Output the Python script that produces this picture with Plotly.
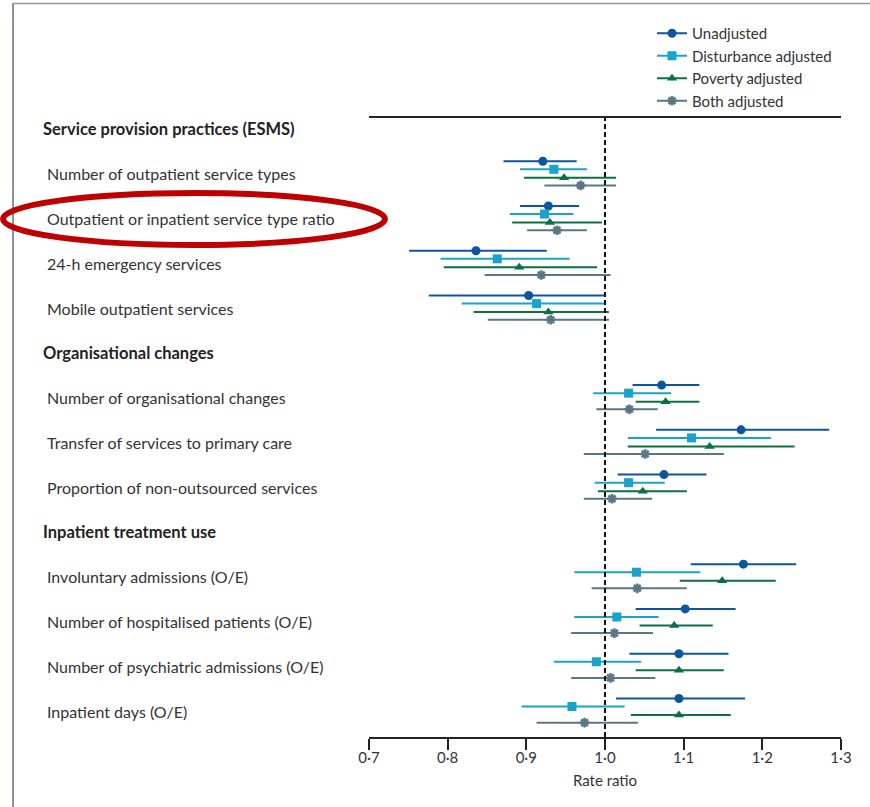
import plotly.graph_objects as go

# ---- data ----
headers = ["Service provision practices (ESMS)", "Organisational changes", "Inpatient treatment use"]
header_slots = [0, 5, 9]
categories = [
    "Number of outpatient service types",
    "Outpatient or inpatient service type ratio",
    "24-h emergency services",
    "Mobile outpatient services",
    "Number of organisational changes",
    "Transfer of services to primary care",
    "Proportion of non-outsourced services",
    "Involuntary admissions (O/E)",
    "Number of hospitalised patients (O/E)",
    "Number of psychiatric admissions (O/E)",
    "Inpatient days (O/E)",
]
category_slots = [1, 2, 3, 4, 6, 7, 8, 10, 11, 12, 13]

unadj_est = [0.921, 0.928, 0.836, 0.903, 1.072, 1.173, 1.075, 1.176, 1.102, 1.094, 1.094]
unadj_lo = [0.871, 0.892, 0.751, 0.776, 1.035, 1.065, 1.016, 1.109, 1.039, 1.031, 1.014]
unadj_hi = [0.964, 0.967, 0.926, 0.999, 1.120, 1.285, 1.129, 1.243, 1.166, 1.157, 1.178]

dist_est = [0.935, 0.923, 0.863, 0.913, 1.030, 1.110, 1.030, 1.040, 1.015, 0.989, 0.958]
dist_lo = [0.892, 0.879, 0.791, 0.818, 0.985, 1.029, 0.987, 0.961, 0.961, 0.935, 0.894]
dist_hi = [0.977, 0.960, 0.955, 0.999, 1.084, 1.211, 1.076, 1.121, 1.068, 1.046, 1.025]

pov_est = [0.948, 0.930, 0.891, 0.928, 1.077, 1.133, 1.048, 1.149, 1.088, 1.094, 1.094]
pov_lo = [0.897, 0.882, 0.795, 0.833, 1.039, 1.029, 0.991, 1.095, 1.044, 1.039, 1.033]
pov_hi = [1.014, 0.996, 0.990, 1.005, 1.120, 1.241, 1.104, 1.217, 1.137, 1.151, 1.160]

both_est = [0.969, 0.939, 0.919, 0.931, 1.031, 1.051, 1.009, 1.041, 1.012, 1.007, 0.974]
both_lo = [0.923, 0.901, 0.847, 0.851, 0.989, 0.973, 0.973, 0.983, 0.957, 0.957, 0.913]
both_hi = [1.014, 0.977, 1.007, 1.005, 1.067, 1.151, 1.060, 1.104, 1.061, 1.064, 1.042]

tick_vals = [0.7, 0.8, 0.9, 1.0, 1.1, 1.2, 1.3]
tick_text = ["0·7", "0·8", "0·9", "1·0", "1·1", "1·2", "1·3"]

series_names = ["Unadjusted", "Disturbance adjusted", "Poverty adjusted", "Both adjusted"]

# ---- styling ----
FONT = "Lato"
TXT = "#333333"
colors = ["#0d55a0", "#18a3cb", "#0b7142", "#5b7684"]
symbols = ["circle", "square", "triangle-up", "asterisk-open"]
sizes = [9, 9, 9, 8]
offsets = [-0.28, -0.1, 0.09, 0.26]

L, R, T, B = 369, 29, 118, 70
W, H = 870, 807
PW, PH = W - L - R, H - T - B
SLOT0, SLOT = 129, 44.77


def px_x(px):
    return (px - L) / PW


def px_y(py):
    return (H - B - py) / PH


def slot_y(py):
    return (py - SLOT0) / SLOT


series = [
    (unadj_est, unadj_lo, unadj_hi),
    (dist_est, dist_lo, dist_hi),
    (pov_est, pov_lo, pov_hi),
    (both_est, both_lo, both_hi),
]

fig = go.Figure()
for i, (est, lo, hi) in enumerate(series):
    ys = [s + offsets[i] for s in category_slots]
    marker = dict(color=colors[i], size=sizes[i], symbol=symbols[i])
    if symbols[i].endswith("open"):
        marker["line"] = dict(color=colors[i], width=2.5)
    fig.add_trace(go.Scatter(
        x=est, y=ys, mode="markers", showlegend=False,
        marker=marker,
        error_x=dict(type="data", symmetric=False,
                     array=[h - e for h, e in zip(hi, est)],
                     arrayminus=[e - l for e, l in zip(est, lo)],
                     color=colors[i], thickness=2, width=0),
        name=series_names[i],
    ))
    fig.add_trace(go.Scatter(
        x=[None], y=[None], mode="lines+markers", name=series_names[i],
        line=dict(color=colors[i], width=2), marker=marker,
    ))

annotations = []
for h, s in zip(headers, header_slots):
    annotations.append(dict(text="<b>" + h + "</b>", x=px_x(41), xref="paper", y=s, yref="y",
                            xanchor="left", yanchor="middle", showarrow=False,
                            font=dict(family=FONT, size=16.5, color="#222222")))
for c, s in zip(categories, category_slots):
    annotations.append(dict(text=c, x=px_x(45), xref="paper", y=s, yref="y",
                            xanchor="left", yanchor="middle", showarrow=False,
                            font=dict(family=FONT, size=16, color=TXT)))

shapes = [
    dict(type="line", x0=1.0, x1=1.0, xref="x", y0=0, y1=1, yref="paper",
         line=dict(color="#111111", width=2, dash="5px,3px")),
    dict(type="line", x0=px_x(13), x1=px_x(13), xref="paper", y0=px_y(H), y1=px_y(3), yref="paper",
         line=dict(color="#5f7080", width=1.5)),
    dict(type="line", x0=px_x(13), x1=px_x(W), xref="paper", y0=px_y(3.5), y1=px_y(3.5), yref="paper",
         line=dict(color="#8a9aa4", width=1.5)),
    dict(type="circle", xref="paper", yref="y",
         x0=px_x(3), x1=px_x(385), y0=slot_y(193), y1=slot_y(245),
         line=dict(color="#be0000", width=6)),
]

fig.update_layout(
    width=W, height=H,
    margin=dict(l=L, r=R, t=T, b=B),
    paper_bgcolor="white", plot_bgcolor="white",
    font=dict(family=FONT, size=15, color=TXT),
    xaxis=dict(range=[0.7, 1.3], tickvals=tick_vals, ticktext=tick_text,
               showgrid=False, zeroline=False, showline=True, mirror=True,
               linecolor="#222222", linewidth=1.5,
               ticks="outside", ticklen=11, tickwidth=1.5, tickcolor="#222222",
               ticklabelstandoff=-5,
               tickfont=dict(family=FONT, size=15, color=TXT),
               title=dict(text="Rate ratio", standoff=11,
                          font=dict(family=FONT, size=15, color=TXT))),
    yaxis=dict(range=[slot_y(H - B), slot_y(T)], visible=False, showgrid=False, zeroline=False),
    legend=dict(x=px_x(652), y=px_y(17), xanchor="left", yanchor="top",
                bgcolor="rgba(0,0,0,0)", font=dict(family=FONT, size=15, color=TXT),
                itemwidth=30, tracegroupgap=0),
    annotations=annotations,
    shapes=shapes,
)

fig.write_html("out.html", config={"displayModeBar": False},
               post_script="document.body.style.margin='0';")
